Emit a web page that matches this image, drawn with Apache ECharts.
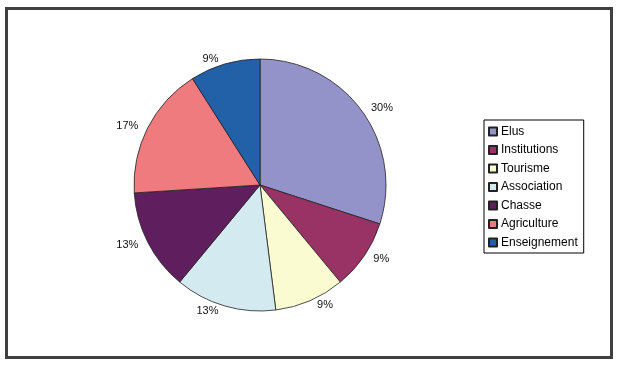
<!DOCTYPE html>
<html>
<head>
<meta charset="utf-8">
<script src="https://cdn.jsdelivr.net/npm/echarts@6/dist/echarts.min.js"></script>
<style>
html,body{margin:0;padding:0;background:#fff;}
#c{width:618px;height:365px;}
</style>
</head>
<body>
<div id="c"></div>
<script>
var categories = ['Elus', 'Institutions', 'Tourisme', 'Association', 'Chasse', 'Agriculture', 'Enseignement'];
var values = [30, 9, 9, 13, 13, 17, 9];
var colors = ['#9393c9', '#993366', '#fbfbd2', '#d3ebf0', '#5f1f5f', '#f07b7f', '#2260a8'];

var chart = echarts.init(document.getElementById('c'), null, {renderer: 'canvas'});
var data = categories.map(function (n, i) {
  return {name: n, value: values[i], itemStyle: {color: colors[i]}};
});
chart.setOption({
  animation: false,
  backgroundColor: '#fff',
  textStyle: {fontFamily: 'Liberation Sans, Arial, sans-serif'},
  graphic: [{
    type: 'rect',
    shape: {x: 6.5, y: 8.5, width: 605, height: 349},
    style: {fill: 'none', stroke: '#404040', lineWidth: 3},
    silent: true
  }],
  legend: {
    orient: 'vertical',
    left: 484,
    top: 120,
    padding: [5, 6, 4, 4],
    borderColor: '#000',
    borderWidth: 1,
    itemWidth: 8,
    itemHeight: 8,
    itemGap: 5.5,
    icon: 'rect',
    textStyle: {fontSize: 12, color: '#000', fontFamily: 'Liberation Sans, Arial, sans-serif', padding: [0, 0, 0, -1], lineHeight: 13},
    data: categories
  },
  series: [{
    type: 'pie',
    center: [260, 185],
    radius: 126,
    startAngle: 90,
    clockwise: true,
    avoidLabelOverlap: false,
    itemStyle: {borderColor: '#222', borderWidth: 0.8},
    label: {
      show: true,
      position: 'outside',
      formatter: '{c}%',
      fontSize: 11,
      color: '#111',
      fontFamily: 'Liberation Sans, Arial, sans-serif'
    },
    labelLine: {show: false, length: 5, length2: 0},
    data: data
  }]
});
</script>
</body>
</html>
